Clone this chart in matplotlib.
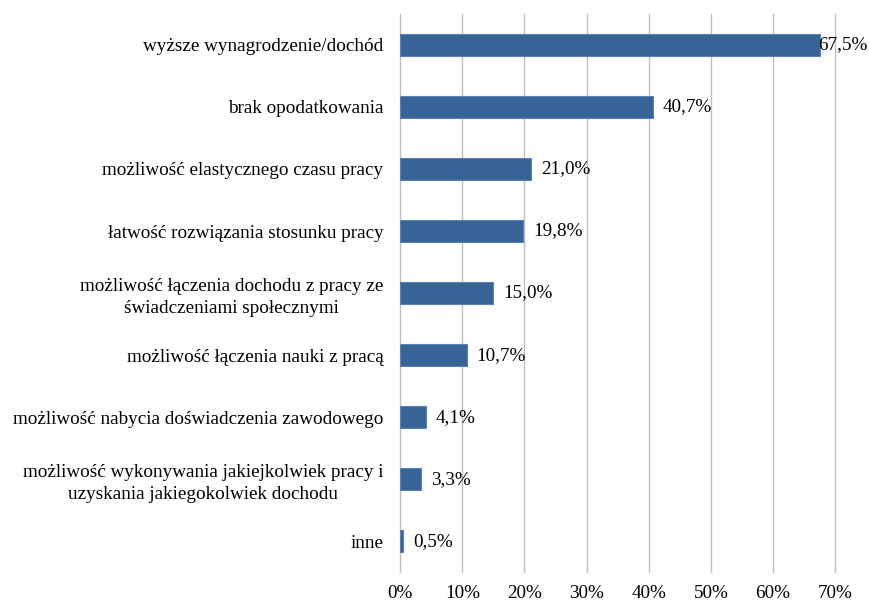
import numpy as np
import matplotlib
matplotlib.use('Agg')
import matplotlib.pyplot as plt

categories = [
    "wyższe wynagrodzenie/dochód",
    "brak opodatkowania",
    "możliwość elastycznego czasu pracy",
    "łatwość rozwiązania stosunku pracy",
    "możliwość łączenia dochodu z pracy ze\nświadczeniami społecznymi",
    "możliwość łączenia nauki z pracą",
    "możliwość nabycia doświadczenia zawodowego",
    "możliwość wykonywania jakiejkolwiek pracy i\nuzyskania jakiegokolwiek dochodu",
    "inne",
]
values = [67.5, 40.7, 21.0, 19.8, 15.0, 10.7, 4.1, 3.3, 0.5]
xticks = [0, 10, 20, 30, 40, 50, 60, 70]

plt.rcParams['font.family'] = ['Liberation Serif', 'DejaVu Serif']
fs = 13.8

fig = plt.figure(figsize=(8.7, 6.03), dpi=100)
ax = fig.add_axes([0.46, 0.051, 0.5, 0.926])

y = np.arange(len(categories))
ax.barh(y, values, height=0.36, color='#386396', edgecolor='#5a82b4', linewidth=0.8, zorder=3)

ax.set_xlim(0, 70)
ax.set_ylim(len(categories) - 0.5, -0.5)
ax.set_xticks(xticks)
ax.set_xticklabels([str(t) + '%' for t in xticks], fontsize=fs, color='black')
ax.set_yticks(y)
ax.set_yticklabels(categories, fontsize=fs, color='black', linespacing=1.4)
for lab in ax.get_yticklabels():
    lab.set_multialignment('center')
ax.tick_params(axis='y', length=0, pad=12)
ax.tick_params(axis='x', length=0, pad=9)

# vertical gridlines, not clipped so the 70% line is drawn full width
for t in xticks:
    ax.axvline(t, color='#bfbfbf', linewidth=1.0, zorder=0, clip_on=False)
for s in ax.spines.values():
    s.set_visible(False)

for yi, v in zip(y, values):
    txt = ('%.1f%%' % v).replace('.', ',')
    off = -2 if v > 65 else 10
    ax.annotate(txt, (v, yi), xytext=(off, 0), textcoords='offset pixels',
                va='center', ha='left', fontsize=fs, color='black')

fig.savefig('out.png', dpi=100)
